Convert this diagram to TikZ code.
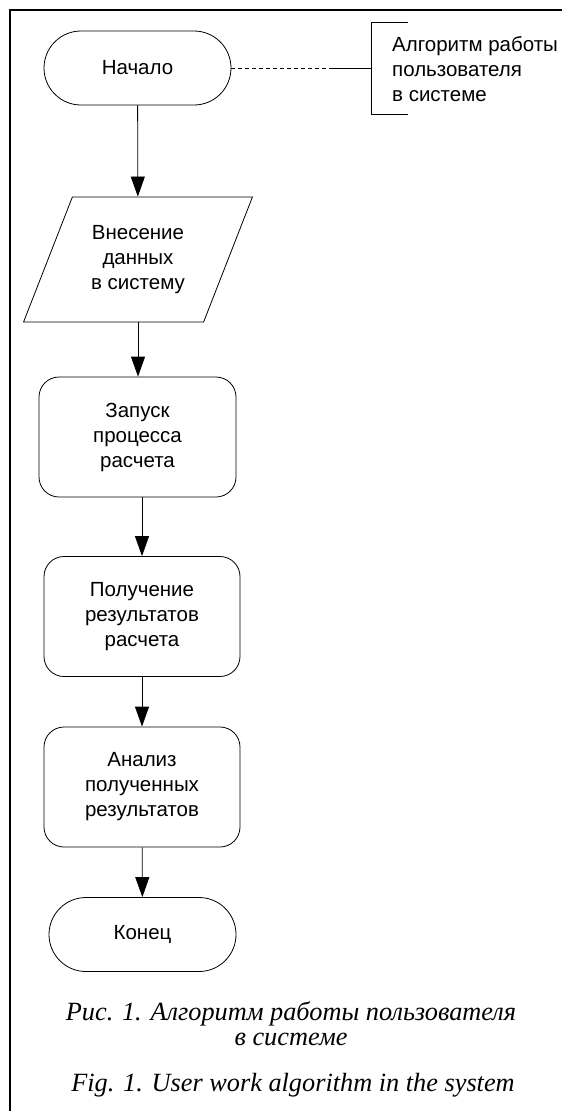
\documentclass[tikz,border=0pt]{standalone}
\usepackage{fontspec}
\setmainfont{Liberation Sans}
\newfontfamily\capfont{Liberation Serif}
\usetikzlibrary{shapes.misc,shapes.geometric,arrows.meta}
\tikzset{
  blk/.style={draw, line width=0.8pt, font=\fontsize{20.5}{25}\selectfont,
    align=center, inner sep=0pt},
  term/.style={blk, rounded rectangle, minimum width=187pt, minimum height=74pt},
  proc/.style={blk, rectangle, rounded corners=20pt, minimum width=196pt,
    minimum height=120pt},
  io/.style={blk, trapezium, trapezium left angle=63, trapezium right angle=117,
    trapezium stretches=true, minimum width=229pt, minimum height=125pt},
  flow/.style={line width=0.8pt, -{Triangle[length=20pt,width=14pt]}},
  caption/.style={font=\capfont\itshape\fontsize{26.3}{25}\selectfont,
    align=center, inner sep=0pt},
}
\begin{document}
\begin{tikzpicture}[x=1pt, y=-1pt]
  %\draw[help lines] (0,0) grid (562,1111);
  \useasboundingbox (0,0) rectangle (562,1111);
  \draw[line width=1.2pt] (10,1111) -- (10,10) -- (562,10);

  \node[term] (start) at (137.5, 68) {Начало};
  \node[io] (input) at (138, 259.5) {Внесение\\данных\\в систему};
  \node[proc, minimum width=197pt] (calc) at (137.5, 437) {Запуск\\процесса\\расчета};
  \node[proc] (result) at (142, 616.5) {Получение\\результатов\\расчета};
  \node[proc] (analysis) at (142, 787) {Анализ\\полученных\\результатов};
  \node[term] (end) at (142.5, 934.5) {Конец};

  \draw[flow] (start) -- (input);
  \draw[flow] (input.south) -- (input.south |- calc.north);
  \draw[flow] (calc.south -| result.north) -- (result.north);
  \draw[flow] (result) -- (analysis);
  \draw[flow] (analysis) -- (end);

  % comment to the start block
  \node[font=\fontsize{20.5}{25}\selectfont, align=left, inner sep=0pt,
    anchor=west] (note) at (392, 69) {Алгоритм работы\\пользователя\\в системе};
  \coordinate (dsh) at (333, 68);
  \coordinate (brk) at (371, 68);
  \draw[line width=0.8pt] (408,22) -- (371,22) -- (371,114) -- (408,114);
  \draw[line width=0.8pt, dash pattern=on 4pt off 3pt] (start.east) -- (dsh);
  \draw[line width=0.8pt] (dsh) -- (brk);

  \node[caption, anchor=north] (cap) at (291, 1001)
    {Рис. 1. Алгоритм работы пользователя\\в системе};
  \node[caption, anchor=base] (figcap) at (293, 1091)
    {Fig. 1. User work algorithm in the system};
\end{tikzpicture}
\end{document}
